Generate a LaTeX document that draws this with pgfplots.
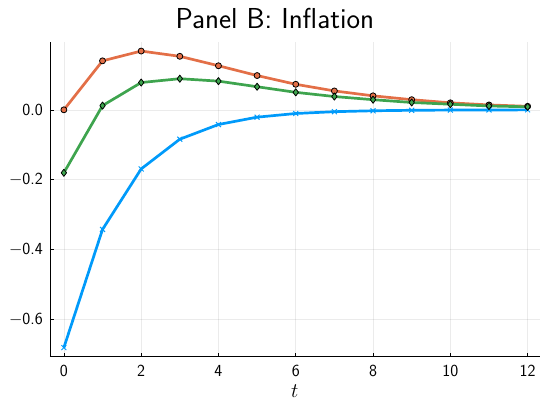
\documentclass[border=0pt]{standalone}
\usepackage{pgfplots}
\pgfplotsset{compat=1.18}
\definecolor{jblue}{HTML}{009AFA}
\definecolor{jorange}{HTML}{E36F47}
\definecolor{jgreen}{HTML}{3EA44E}

\begin{document}
\begin{tikzpicture}
  \path (0,0) rectangle (540bp,400bp);
  \begin{axis}[
    at={(50bp,43bp)}, anchor=south west,
    scale only axis,
    width=490bp, height=315bp,
    xmin=-0.36, xmax=12.31,
    ymin=-0.706, ymax=0.194,
    axis lines=left,
    axis line style={-, line width=0.8bp, black},
    tick align=inside,
    major tick length=4bp,
    tick style={black, line width=0.6bp},
    xtick={0,2,...,12},
    ytick={-0.6,-0.4,-0.2,0},
    yticklabels={$-$0.6,$-$0.4,$-$0.2,0.0},
    grid=major,
    grid style={black, opacity=0.08, line width=0.6bp},
    xticklabel style={font=\sffamily\fontsize{17}{19}\selectfont,
      anchor=base, yshift=-20bp, inner sep=0pt},
    yticklabel style={font=\sffamily\fontsize{17}{19}\selectfont,
      anchor=east, xshift=-7bp, inner sep=0pt},
    /pgf/number format/assume math mode=true,
    every axis plot/.append style={line width=2.7bp, line join=round},
  ]
    % series 1: blue, x markers
    \addplot[jblue, mark=x, mark size=3.5bp,
      mark options={line width=1bp, jblue}]
      coordinates {
        (0,-0.680) (1,-0.342) (2,-0.169) (3,-0.084) (4,-0.042)
        (5,-0.021) (6,-0.0105) (7,-0.0053) (8,-0.0027) (9,-0.0013)
        (10,-0.0007) (11,-0.0003) (12,-0.0002)
      };
    % series 2: orange, circles
    \addplot[jorange, mark=*, mark size=3bp,
      mark options={line width=0.8bp, draw=black, fill=jorange}]
      coordinates {
        (0,0.000) (1,0.140) (2,0.168) (3,0.153) (4,0.126)
        (5,0.098) (6,0.073) (7,0.054) (8,0.040) (9,0.029)
        (10,0.020) (11,0.014) (12,0.010)
      };
    % series 3: green, diamonds
    \addplot[jgreen, mark=diamond*, mark size=3.6bp,
      mark options={line width=0.8bp, draw=black, fill=jgreen}]
      coordinates {
        (0,-0.180) (1,0.012) (2,0.078) (3,0.089) (4,0.082)
        (5,0.066) (6,0.050) (7,0.038) (8,0.029) (9,0.021)
        (10,0.016) (11,0.011) (12,0.0086)
      };
  \end{axis}
  \node[anchor=base, font=\sffamily\fontsize{29}{32}\selectfont, inner sep=0pt]
    at (275bp,371.5bp) {Panel B: Inflation};
  \node[anchor=base, font=\fontsize{22}{25}\selectfont, inner sep=0pt]
    at (295bp,2.5bp) {$t$};
\end{tikzpicture}
\end{document}
